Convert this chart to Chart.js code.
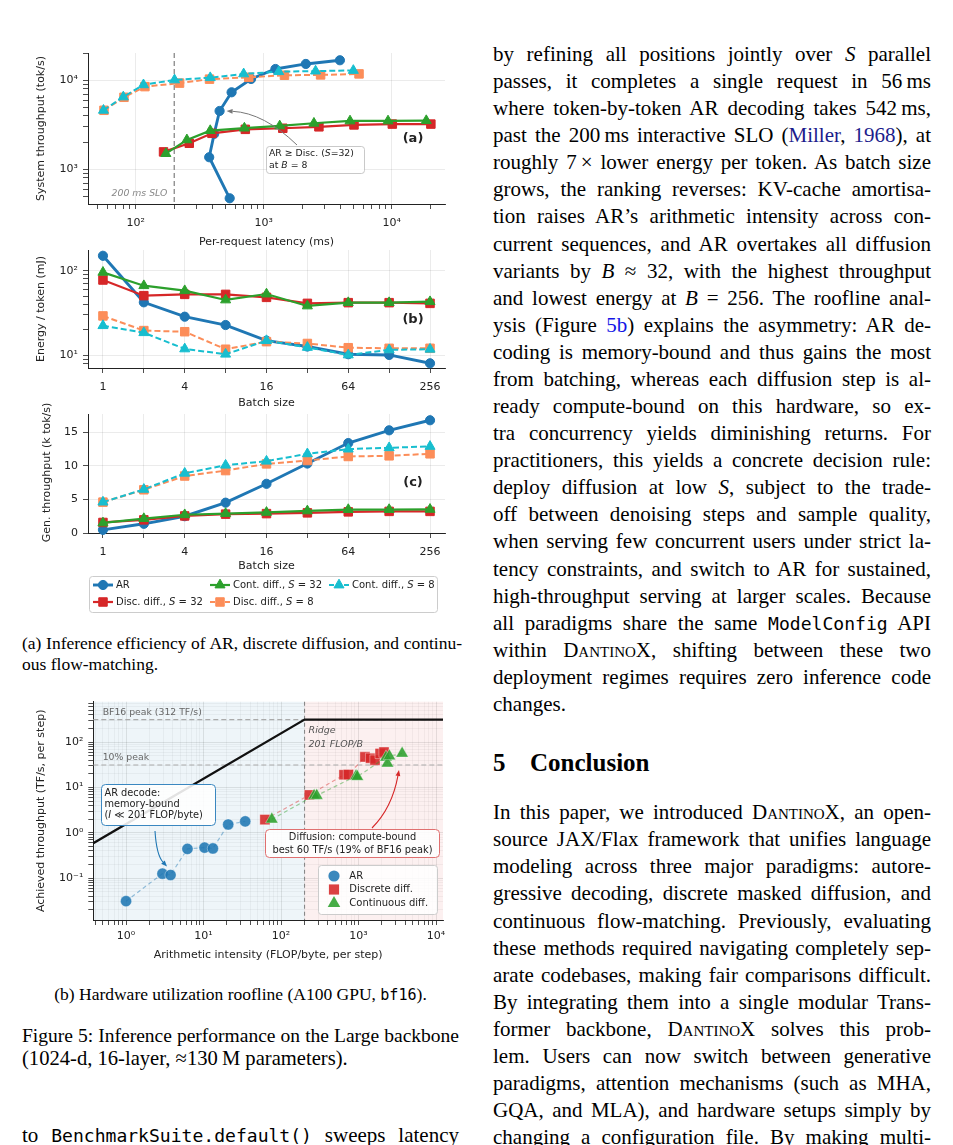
<!DOCTYPE html>
<html>
<head>
<meta charset="utf-8">
<script src="https://cdn.jsdelivr.net/npm/chart.js@4.4.1/dist/chart.umd.min.js"></script>
<style>
html,body{margin:0;padding:0;background:#fff;}
body{width:953px;height:1145px;overflow:hidden;position:relative;font-family:"Liberation Serif","Times New Roman",serif;color:#000;}
canvas{position:absolute;}
.ln{position:absolute;white-space:nowrap;text-align:left;}
.body{font-size:21px;line-height:27px;height:27px;}
.sub{font-size:17.5px;line-height:21px;height:21px;}
.fig{font-size:20.6px;line-height:23px;height:23px;}
.sc{font-variant:small-caps;}
.tt{font-family:"DejaVu Sans Mono",monospace;font-size:0.86em;}
.cite{color:#1c1c8c;}
.ref{color:#1414e6;}
.head{position:absolute;font-weight:bold;font-size:25px;line-height:30px;}
</style>
</head>
<body>
<canvas id="cA" width="425" height="208" style="left:30px;top:42px"></canvas>
<canvas id="cB" width="425" height="162" style="left:30px;top:250px"></canvas>
<canvas id="cC" width="425" height="220" style="left:30px;top:395px"></canvas>
<canvas id="cR" width="425" height="270" style="left:30px;top:695px"></canvas>
<div class="head" style="left:493px;top:748px">5</div>
<div class="head" style="left:530px;top:748px">Conclusion</div>
<script>
// ---- data ----
const seriesNames = ['AR', 'Disc. diff., S = 32', 'Cont. diff., S = 32', 'Disc. diff., S = 8', 'Cont. diff., S = 8'];
const batchSizes = [1, 2, 4, 8, 16, 32, 64, 128, 256];
const batchLabels = [1, 4, 16, 64, 256];

// (a) latency (ms) vs system throughput (tok/s)
const arLatency = [542, 375, 410, 452, 561, 796, 1234, 2133, 3935];
const arSysThroughput = [472, 1365, 2500, 4520, 7330, 10350, 13400, 15270, 16800];
const disc32Latency = [165, 262, 394, 718, 1409, 2697, 5070, 10100, 20200];
const disc32SysThroughput = [1567, 1960, 2535, 2810, 2890, 3000, 3150, 3220, 3220];
const cont32Latency = [172, 251, 382, 706, 1333, 2466, 4720, 9350, 18600];
const cont32SysThroughput = [1500, 2140, 2720, 2900, 3070, 3290, 3490, 3490, 3520];
const disc8Latency = [56.5, 81, 118, 220, 377, 764, 1452, 2780, 5550];
const disc8SysThroughput = [4600, 6440, 8490, 9300, 10300, 10800, 11400, 11500, 11800];
const cont8Latency = [56, 80, 115, 201, 382, 697, 1310, 2540, 5010];
const cont8SysThroughput = [4600, 6500, 8900, 10100, 10700, 11800, 12500, 12700, 12900];
const sloMs = 200;

// (b) energy per token (mJ)
const arEnergy = [150, 42.3, 28.6, 22.8, 14.9, 12.7, 10.3, 10.1, 8.05];
const disc32Energy = [77.6, 50.7, 52.5, 52.5, 48.4, 41.1, 41.9, 41.9, 41.1];
const cont32Energy = [95.6, 66.5, 58, 45.1, 53, 38.3, 41.9, 41.9, 43];
const disc8Energy = [29.2, 19.6, 19, 11.8, 14.5, 13.8, 12.3, 12.1, 12.1];
const cont8Energy = [22.4, 18.5, 11.9, 10.3, 14.9, 12.4, 10.1, 11.6, 11.8];

// (c) generation throughput (k tok/s)
const arGen = [0.47, 1.37, 2.5, 4.52, 7.33, 10.35, 13.4, 15.3, 16.8];
const disc32Gen = [1.57, 1.96, 2.54, 2.81, 2.89, 3.0, 3.15, 3.22, 3.22];
const cont32Gen = [1.5, 2.14, 2.72, 2.9, 3.07, 3.29, 3.49, 3.49, 3.52];
const disc8Gen = [4.6, 6.44, 8.49, 9.3, 10.3, 10.8, 11.4, 11.5, 11.8];
const cont8Gen = [4.6, 6.5, 8.9, 10.1, 10.7, 11.8, 12.5, 12.7, 12.9];

// roofline
const rooflineNames = ['AR', 'Discrete diff.', 'Continuous diff.'];
const arIntensity = [1.0, 2.95, 3.75, 6.2, 10.3, 13.2, 20.8, 34.5];
const arTflops = [0.031, 0.125, 0.117, 0.44, 0.47, 0.45, 1.52, 1.78];
const discIntensity = [62, 232, 650, 740, 1210, 1430, 1630, 1900, 2130];
const discTflops = [1.95, 6.8, 19.0, 19.2, 47, 44, 40, 56, 60];
const contIntensity = [76, 267, 289, 929, 965, 2260, 2360, 2500, 3650];
const contTflops = [1.98, 6.55, 6.6, 17.8, 17.2, 46, 34, 49, 56];
const roofIntensity = [0.3, 201, 20000];
const roofTflops = [0.466, 312, 312];
const peakTflops = 312;
const tenPctTflops = 31.2;
const ridgeIntensity = 201;

// ---- styling ----
const seriesStyle = [
  {color: '#1f77b4', dash: [], style: 'circle', r: 4.6, w: 2.9},
  {color: '#d62728', dash: [], style: 'rect', r: 6, w: 2.2},
  {color: '#2ca02c', dash: [], style: 'triangle', r: 5.8, w: 2.2},
  {color: '#fc8d59', dash: [6, 3], style: 'rect', r: 6, w: 2},
  {color: '#17becf', dash: [6, 3], style: 'triangle', r: 5.8, w: 2}
];
const rfStyle = [
  {rgb: '31,119,180', style: 'circle', r: 5.6},
  {rgb: '214,39,40', style: 'rect', r: 7.2},
  {rgb: '44,160,44', style: 'triangle', r: 7.2}
];
const gridCol = 'rgba(0,0,0,0.1)';

Chart.defaults.font.family = '"DejaVu Sans", sans-serif';
Chart.defaults.font.size = 11;
Chart.defaults.color = '#222';
Chart.defaults.animation = false;
Chart.defaults.events = [];
Chart.defaults.plugins.legend.display = false;
Chart.defaults.plugins.tooltip.enabled = false;

// ---- helpers ----
function sup(n){
  const m = {'-':'\u207B','0':'\u2070','1':'\u00B9','2':'\u00B2','3':'\u00B3','4':'\u2074','5':'\u2075','6':'\u2076','7':'\u2077','8':'\u2078','9':'\u2079'};
  return String(n).split('').map(c => m[c]).join('');
}
function logTicks(min, max){
  const t = [];
  for (let e = Math.floor(Math.log10(min)); e <= Math.ceil(Math.log10(max)); e++) {
    for (let k = 1; k < 10; k++) {
      const v = k * Math.pow(10, e);
      if (v >= min && v <= max) t.push({value: v, major: k === 1});
    }
  }
  return t;
}
function decadeLabel(v, i, t){ return t[i].major ? '10' + sup(Math.round(Math.log10(v))) : ''; }
function fixAxis(w, h){
  return s => {
    if (w != null) s.width = w;
    if (h != null) s.height = h;
    s.paddingTop = 0; s.paddingBottom = 0; s.paddingLeft = 0; s.paddingRight = 0;
  };
}
function logAxis(min, max, extra, gridFn, pad){
  return Object.assign({
    type: 'logarithmic', min: min, max: max,
    afterBuildTicks: s => { s.ticks = logTicks(min, max); },
    ticks: {autoSkip: false, maxRotation: 0, minRotation: 0, padding: pad || 5, callback: decadeLabel, color: '#222'},
    grid: {color: gridFn || (c => c.tick && c.tick.major ? gridCol : 'rgba(0,0,0,0)'), lineWidth: 0.8, tickColor: '#222', tickLength: 5, tickWidth: 0.8},
    border: {color: '#222', width: 1}
  }, extra);
}
function batchAxis(extra){
  return Object.assign({
    type: 'logarithmic', min: 0.776, max: 330,
    afterBuildTicks: s => { s.ticks = batchSizes.map(v => ({value: v})); },
    ticks: {autoSkip: false, maxRotation: 0, minRotation: 0, padding: 7.5, color: '#222',
      callback: v => batchLabels.includes(v) ? String(v) : ''},
    grid: {color: gridCol, lineWidth: 0.8, tickColor: '#222', tickLength: 5, tickWidth: 0.8},
    border: {color: '#222', width: 1}
  }, extra);
}
function axTitle(text, pTop, pBottom){
  return {display: true, text: text, font: {size: 11}, color: '#222', padding: {top: pTop, bottom: pBottom}};
}
function seriesSets(xArrs, yArrs){
  return seriesNames.map((name, i) => {
    const s = seriesStyle[i];
    return {
      label: name,
      data: xArrs[i].map((x, j) => ({x: x, y: yArrs[i][j]})),
      borderColor: s.color, backgroundColor: s.color,
      pointBackgroundColor: s.color, pointBorderColor: s.color, pointBorderWidth: 1,
      borderWidth: s.w, borderDash: s.dash, pointStyle: s.style, pointRadius: s.r,
      order: 4 - i, clip: false, tension: 0
    };
  });
}
function marker(ctx, style, x, y, r, fill, stroke, lw){
  ctx.beginPath();
  if (style === 'circle') ctx.arc(x, y, r, 0, Math.PI * 2);
  else if (style === 'rect') { const s = r * Math.SQRT1_2; ctx.rect(x - s, y - s, 2 * s, 2 * s); }
  else {
    ctx.moveTo(x, y - r);
    ctx.lineTo(x + r * Math.sin(2 * Math.PI / 3), y - r * Math.cos(2 * Math.PI / 3));
    ctx.lineTo(x + r * Math.sin(4 * Math.PI / 3), y - r * Math.cos(4 * Math.PI / 3));
    ctx.closePath();
  }
  ctx.fillStyle = fill; ctx.fill();
  if (lw) { ctx.strokeStyle = stroke; ctx.lineWidth = lw; ctx.stroke(); }
}
function rich(ctx, parts, x, y, size, align, color, bold){
  const f = p => (p[1] ? 'italic ' : '') + (bold ? 'bold ' : '') + size + 'px "DejaVu Sans"';
  let w = 0;
  parts.forEach(p => { ctx.font = f(p); w += ctx.measureText(p[0]).width; });
  let cx = align === 'center' ? x - w / 2 : align === 'right' ? x - w : x;
  ctx.fillStyle = color; ctx.textBaseline = 'middle'; ctx.textAlign = 'left';
  parts.forEach(p => { ctx.font = f(p); ctx.fillText(p[0], cx, y); cx += ctx.measureText(p[0]).width; });
}
function roundBox(ctx, x, y, w, h, r, fill, stroke, lw){
  ctx.beginPath(); ctx.roundRect(x, y, w, h, r);
  ctx.fillStyle = fill; ctx.fill();
  ctx.strokeStyle = stroke; ctx.lineWidth = lw; ctx.setLineDash([]); ctx.stroke();
}
function arrow(ctx, x1, y1, cx, cy, x2, y2, color, lw, head){
  ctx.save();
  ctx.strokeStyle = color; ctx.fillStyle = color; ctx.lineWidth = lw; ctx.setLineDash([]);
  const a = Math.atan2(y2 - cy, x2 - cx);
  const bx = x2 - head * Math.cos(a), by = y2 - head * Math.sin(a);
  ctx.beginPath(); ctx.moveTo(x1, y1); ctx.quadraticCurveTo(cx, cy, bx, by); ctx.stroke();
  ctx.beginPath(); ctx.moveTo(x2, y2);
  ctx.lineTo(bx - head * 0.4 * Math.sin(a), by + head * 0.4 * Math.cos(a));
  ctx.lineTo(bx + head * 0.4 * Math.sin(a), by - head * 0.4 * Math.cos(a));
  ctx.closePath(); ctx.fill();
  ctx.restore();
}
function vDash(c, v, color, dash, lw){
  const {ctx, chartArea: a, scales: {x}} = c;
  const px = x.getPixelForValue(v);
  ctx.save(); ctx.strokeStyle = color; ctx.lineWidth = lw; ctx.setLineDash(dash);
  ctx.beginPath(); ctx.moveTo(px, a.top); ctx.lineTo(px, a.bottom); ctx.stroke(); ctx.restore();
}
function hDash(c, v, color, dash, lw){
  const {ctx, chartArea: a, scales: {y}} = c;
  const py = y.getPixelForValue(v);
  ctx.save(); ctx.strokeStyle = color; ctx.lineWidth = lw; ctx.setLineDash(dash);
  ctx.beginPath(); ctx.moveTo(a.left, py); ctx.lineTo(a.right, py); ctx.stroke(); ctx.restore();
}

// ---- (a) latency / throughput ----
new Chart(document.getElementById('cA'), {
  type: 'line',
  data: {datasets: seriesSets(
    [arLatency, disc32Latency, cont32Latency, disc8Latency, cont8Latency],
    [arSysThroughput, disc32SysThroughput, cont32SysThroughput, disc8SysThroughput, cont8SysThroughput])},
  options: {
    responsive: false,
    layout: {autoPadding: false, padding: {top: 11, right: 10, left: 0, bottom: 0}},
    scales: {
      x: logAxis(42.4, 26050, {afterFit: fixAxis(null, 46), title: axTitle('Per-request latency (ms)', 0, 1.7)}, null, 8),
      y: logAxis(407, 20270, {afterFit: fixAxis(58, null), title: axTitle('System throughput (tok/s)', 5, 0)})
    }
  },
  plugins: [{
    id: 'annA',
    beforeDatasetsDraw(c){ vDash(c, sloMs, '#888', [5, 3], 1.3); },
    afterDatasetsDraw(c){
      const {ctx, chartArea: a, scales: {x, y}} = c;
      const sx = x.getPixelForValue(sloMs);
      rich(ctx, [['200 ms SLO', 1]], sx - 7, a.bottom - 10, 9.3, 'right', '#888');
      const tx = x.getPixelForValue(arLatency[3]) + 7, ty = y.getPixelForValue(arSysThroughput[3]);
      arrow(ctx, 267, 103, 234, 71, tx, ty, '#777', 1, 6);
      roundBox(ctx, 236.5, 104.5, 98, 27, 3, 'rgba(255,255,255,0.9)', '#bbb', 0.8);
      rich(ctx, [['AR \u2265 Disc. (', 0], ['S', 1], ['=32)', 0]], 239, 111.5, 9.3, 'left', '#222');
      rich(ctx, [['at ', 0], ['B', 1], [' = 8', 0]], 239, 123.5, 9.3, 'left', '#222');
      rich(ctx, [['(a)', 0]], 383, 97, 13, 'center', '#222', true);
    }
  }]
});

// ---- (b) energy ----
new Chart(document.getElementById('cB'), {
  type: 'line',
  data: {datasets: seriesSets(
    [batchSizes, batchSizes, batchSizes, batchSizes, batchSizes],
    [arEnergy, disc32Energy, cont32Energy, disc8Energy, cont8Energy])},
  options: {
    responsive: false,
    layout: {autoPadding: false, padding: {top: 0, right: 10, left: 0, bottom: 0}},
    scales: {
      x: batchAxis({afterFit: fixAxis(null, 44), title: axTitle('Batch size', 0, 2.7)}),
      y: logAxis(7.08, 175.6, {afterFit: fixAxis(58, null), title: axTitle('Energy / token (mJ)', 5, 0)})
    }
  },
  plugins: [{
    id: 'annB',
    afterDatasetsDraw(c){ rich(c.ctx, [['(b)', 0]], 383, 70, 13, 'center', '#222', true); }
  }]
});

// ---- (c) generation throughput + shared legend ----
new Chart(document.getElementById('cC'), {
  type: 'line',
  data: {datasets: seriesSets(
    [batchSizes, batchSizes, batchSizes, batchSizes, batchSizes],
    [arGen, disc32Gen, cont32Gen, disc8Gen, cont8Gen])},
  options: {
    responsive: false,
    layout: {autoPadding: false, padding: {top: 19, right: 10, left: 0, bottom: 41}},
    scales: {
      x: batchAxis({afterFit: fixAxis(null, 41), title: axTitle('Batch size', 0, 1.4)}),
      y: {
        type: 'linear', min: 0, max: 17.73,
        afterBuildTicks: s => { s.ticks = [0, 5, 10, 15].map(v => ({value: v})); },
        afterFit: fixAxis(58, null),
        ticks: {padding: 5, color: '#222'},
        grid: {color: gridCol, lineWidth: 0.8, tickColor: '#222', tickLength: 5, tickWidth: 0.8},
        border: {color: '#222', width: 1}
      }
    }
  },
  plugins: [{
    id: 'annC',
    afterDraw(c){
      const {ctx, chartArea: a} = c;
      // y title is longer than the axis, so draw it by hand
      ctx.save();
      ctx.translate(16.7, (a.top + a.bottom) / 2 - 1);
      ctx.rotate(-Math.PI / 2);
      ctx.font = '11px "DejaVu Sans"'; ctx.fillStyle = '#222';
      ctx.textAlign = 'center'; ctx.textBaseline = 'middle';
      ctx.fillText('Gen. throughput (k tok/s)', 0, 0);
      ctx.restore();
      rich(ctx, [['(c)', 0]], 383, 88, 13, 'center', '#222', true);
      roundBox(ctx, 59.5, 181.5, 348, 36, 3, '#fff', '#ccc', 1);
      const colX = [63, 180, 299], rowY = [190, 207];
      seriesNames.forEach((name, i) => {
        const s = seriesStyle[i];
        const x0 = colX[Math.floor(i / 2)], yy = rowY[i % 2];
        ctx.save();
        ctx.strokeStyle = s.color; ctx.lineWidth = s.w; ctx.setLineDash(s.dash.length ? [5, 2.5] : []);
        ctx.beginPath(); ctx.moveTo(x0, yy); ctx.lineTo(x0 + 20, yy); ctx.stroke();
        ctx.setLineDash([]);
        marker(ctx, s.style, x0 + 10, yy, s.r, s.color, s.color, 1);
        ctx.restore();
        const m = name.match(/^(.*)S( = \d+)$/);
        const parts = m ? [[m[1], 0], ['S', 1], [m[2], 0]] : [[name, 0]];
        rich(ctx, parts, x0 + 23, yy, 10, 'left', '#222');
      });
    }
  }]
});

// ---- roofline ----
const rfData = [[arIntensity, arTflops], [discIntensity, discTflops], [contIntensity, contTflops]];
const rfSets = rooflineNames.map((name, i) => {
  const s = rfStyle[i];
  return {
    label: name,
    data: rfData[i][0].map((x, j) => ({x: x, y: rfData[i][1][j]})),
    showLine: true, borderColor: 'rgba(' + s.rgb + ',0.45)', borderWidth: 1.2, borderDash: [4, 3],
    pointStyle: s.style, pointRadius: s.r,
    pointBackgroundColor: 'rgba(' + s.rgb + ',0.88)', pointBorderColor: 'rgba(255,255,255,0.6)', pointBorderWidth: 0.6,
    order: 3 - i
  };
});
rfSets.push({
  label: 'roofline',
  data: roofIntensity.map((x, j) => ({x: x, y: roofTflops[j]})),
  showLine: true, borderColor: '#111', borderWidth: 2.2, pointRadius: 0, order: 5
});
new Chart(document.getElementById('cR'), {
  type: 'scatter',
  data: {datasets: rfSets},
  options: {
    responsive: false,
    layout: {autoPadding: false, padding: {top: 6.7, right: 12, left: 0, bottom: 0}},
    scales: {
      x: logAxis(0.378, 12300, {afterFit: fixAxis(null, 45), title: axTitle('Arithmetic intensity (FLOP/byte, per step)', 0, 3.4)},
        c => c.tick && c.tick.major ? 'rgba(0,0,0,0.12)' : 'rgba(0,0,0,0.05)'),
      y: logAxis(0.0119, 776, {afterFit: fixAxis(63.3, null), title: axTitle('Achieved throughput (TF/s, per step)', 5, 0)},
        c => c.tick && c.tick.major ? 'rgba(0,0,0,0.12)' : 'rgba(0,0,0,0.05)')
    }
  },
  plugins: [{
    id: 'annR',
    beforeDraw(c){
      const {ctx, chartArea: a, scales: {x}} = c;
      const rx = x.getPixelForValue(ridgeIntensity);
      ctx.save();
      ctx.fillStyle = 'rgba(31,119,180,0.075)'; ctx.fillRect(a.left, a.top, rx - a.left, a.bottom - a.top);
      ctx.fillStyle = 'rgba(214,39,40,0.07)'; ctx.fillRect(rx, a.top, a.right - rx, a.bottom - a.top);
      ctx.restore();
    },
    beforeDatasetsDraw(c){
      hDash(c, peakTflops, '#aaa', [5, 3], 1.2);
      hDash(c, tenPctTflops, '#aaa', [5, 3], 1.2);
      vDash(c, ridgeIntensity, '#888', [4, 3], 1.1);
    },
    afterDatasetsDraw(c){
      const {ctx, chartArea: a, scales: {x, y}} = c;
      rich(ctx, [['BF16 peak (312 TF/s)', 0]], a.left + 9.4, y.getPixelForValue(peakTflops) - 7, 9.3, 'left', '#666');
      rich(ctx, [['10% peak', 0]], a.left + 9.4, y.getPixelForValue(tenPctTflops) - 7, 9.3, 'left', '#666');
      const rx = x.getPixelForValue(ridgeIntensity) + 4;
      rich(ctx, [['Ridge', 1]], rx, 36, 9.5, 'left', '#555');
      rich(ctx, [['201 FLOP/B', 1]], rx, 49.3, 9.5, 'left', '#555');
      // AR annotation
      arrow(ctx, 125, 136, 126.5, 160, 137, 171.5, '#1f77b4', 1.1, 6);
      roundBox(ctx, 71.5, 89.5, 114, 41, 4, 'rgba(255,255,255,0.88)', '#3a87c0', 1);
      rich(ctx, [['AR decode:', 0]], 74.5, 98, 9.8, 'left', '#222');
      rich(ctx, [['memory-bound', 0]], 74.5, 109, 9.8, 'left', '#222');
      rich(ctx, [['(', 0], ['I', 1], [' \u226A 201 FLOP/byte)', 0]], 74.5, 120.3, 9.8, 'left', '#222');
      // diffusion annotation
      arrow(ctx, 342, 133, 362, 113, 369, 75, '#d62728', 1.1, 6);
      roundBox(ctx, 235.5, 134.5, 174, 28, 4, 'rgba(255,255,255,0.88)', '#e07070', 1);
      rich(ctx, [['Diffusion: compute-bound', 0]], 322.5, 142.8, 9.8, 'center', '#222');
      rich(ctx, [['best 60 TF/s (19% of BF16 peak)', 0]], 322.5, 155, 9.8, 'center', '#222');
      // legend
      roundBox(ctx, 288.5, 170.5, 119, 49, 3, 'rgba(255,255,255,0.85)', '#ccc', 1);
      const rows = [181, 194.5, 208.3];
      rooflineNames.forEach((name, i) => {
        const s = rfStyle[i];
        marker(ctx, s.style, 304, rows[i], s.r, 'rgba(' + s.rgb + ',0.88)', null, 0);
        rich(ctx, [[name, 0]], 319.3, rows[i], 10, 'left', '#222');
      });
    }
  }]
});

// ---- page text ----
const SC = '<span class="sc">DantinoX</span>';
const bodyLines = [
  'by refining all positions jointly over <i>S</i> parallel',
  'passes, it completes a single request in 56\u2009ms',
  'where token-by-token AR decoding takes 542\u2009ms,',
  'past the 200\u2009ms interactive SLO (<span class="cite">Miller</span>, <span class="cite">1968</span>), at',
  'roughly 7\u2009\u00D7 lower energy per token. As batch size',
  'grows, the ranking reverses: KV-cache amortisa-',
  'tion raises AR\u2019s arithmetic intensity across con-',
  'current sequences, and AR overtakes all diffusion',
  'variants by <i>B</i> \u2248 32, with the highest throughput',
  'and lowest energy at <i>B</i> = 256. The roofline anal-',
  'ysis (Figure <span class="ref">5b</span>) explains the asymmetry: AR de-',
  'coding is memory-bound and thus gains the most',
  'from batching, whereas each diffusion step is al-',
  'ready compute-bound on this hardware, so ex-',
  'tra concurrency yields diminishing returns. For',
  'practitioners, this yields a concrete decision rule:',
  'deploy diffusion at low <i>S</i>, subject to the trade-',
  'off between denoising steps and sample quality,',
  'when serving few concurrent users under strict la-',
  'tency constraints, and switch to AR for sustained,',
  'high-throughput serving at larger scales. Because',
  'all paradigms share the same <span class="tt">ModelConfig</span> API',
  'within ' + SC + ', shifting between these two',
  'deployment regimes requires zero inference code',
  'changes.'
];
const conclLines = [
  'In this paper, we introduced ' + SC + ', an open-',
  'source JAX/Flax framework that unifies language',
  'modeling across three major paradigms: autore-',
  'gressive decoding, discrete masked diffusion, and',
  'continuous flow-matching. Previously, evaluating',
  'these methods required navigating completely sep-',
  'arate codebases, making fair comparisons difficult.',
  'By integrating them into a single modular Trans-',
  'former backbone, ' + SC + ' solves this prob-',
  'lem. Users can now switch between generative',
  'paradigms, attention mechanisms (such as MHA,',
  'GQA, and MLA), and hardware setups simply by',
  'changing a configuration file. By making multi-'
];

function placeLine(html, left, top, width, cls, mode){
  const d = document.createElement('div');
  d.className = 'ln ' + cls;
  d.style.left = left + 'px'; d.style.top = top + 'px'; d.style.width = width + 'px';
  d.innerHTML = '<span>' + html + '</span>';
  document.body.appendChild(d);
  const sp = d.firstChild;
  const w = sp.getBoundingClientRect().width;
  if (w > width - 0.5) {
    const n = (sp.textContent.match(/ /g) || []).length;
    const per = (w - width + 0.8) / Math.max(n, 1);
    if (n && per < 1.2) d.style.wordSpacing = (-per) + 'px';
    else d.style.fontSize = (parseFloat(getComputedStyle(d).fontSize) * (width - 1) / w) + 'px';
  }
  if (mode === 'justify') { d.style.textAlign = 'justify'; d.style.textAlignLast = 'justify'; d.style.whiteSpace = 'normal'; }
  if (mode === 'center') d.style.textAlign = 'center';
}

bodyLines.forEach((h, i) => placeLine(h, 493, 41 + 27.08 * i, 438, 'body', i === bodyLines.length - 1 ? 'left' : 'justify'));
conclLines.forEach((h, i) => placeLine(h, 493, 799.2 + 27.08 * i, 438, 'body', 'justify'));

placeLine('(a) Inference efficiency of AR, discrete diffusion, and continu-', 22, 632.5, 440, 'sub', 'justify');
placeLine('ous flow-matching.', 22, 653.5, 440, 'sub', 'left');
placeLine('(b) Hardware utilization roofline (A100 GPU, <span class="tt">bf16</span>).', 22, 983.5, 437, 'sub', 'center');
placeLine('Figure 5: Inference performance on the Large backbone', 22, 1024.3, 437, 'fig', 'justify');
placeLine('(1024-d, 16-layer, \u2248130\u2009M parameters).', 22, 1047.3, 437, 'fig', 'left');
placeLine('to <span class="tt">BenchmarkSuite.default()</span> sweeps latency', 22, 1122.2, 437, 'body', 'justify');
</script>
</body>
</html>
